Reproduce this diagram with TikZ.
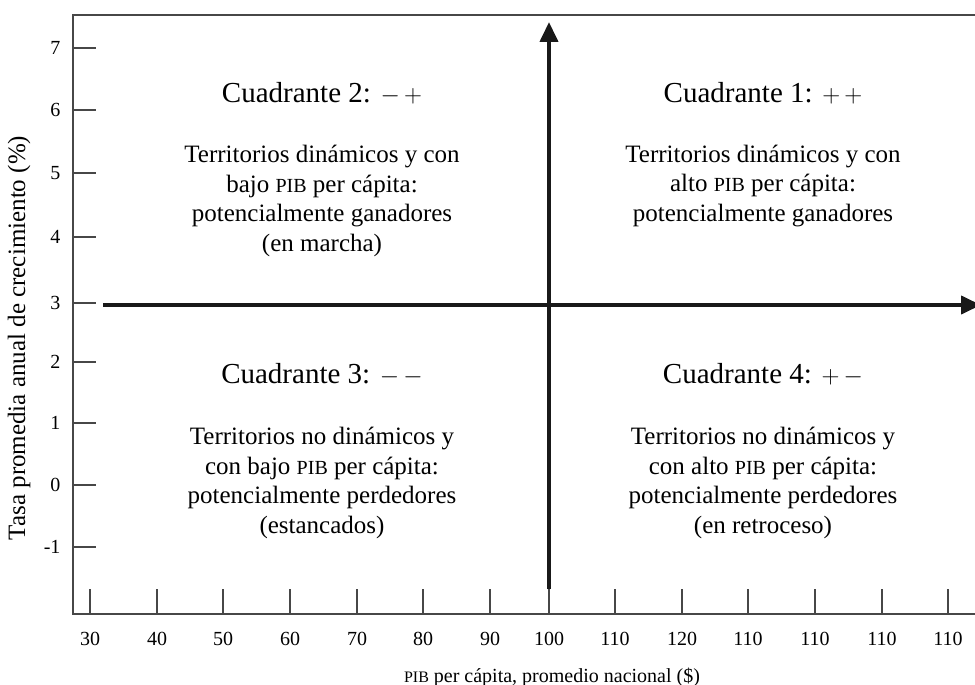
\documentclass[tikz,border=0pt]{standalone}
\usepackage{fontspec}
\setmainfont{Liberation Serif}
\usepackage{graphicx}
\usetikzlibrary{arrows.meta}
\newcommand{\pib}{\scalebox{0.8}{PIB}}

\begin{document}
\begin{tikzpicture}[x=1pt,y=-1pt,
        frameline/.style={draw=black!72,line width=1.5pt},
        bigarrow/.style={-{Triangle[length=20pt,width=18pt]},line width=4pt,draw=black!90},
        quadtitle/.style={font=\fontsize{29}{34}\selectfont},
        quadtext/.style={align=center,font=\fontsize{25}{29.5}\selectfont},
        ticklabel/.style={font=\fontsize{20}{24}\selectfont}]
        \useasboundingbox (0,0) rectangle (975,685);
        % frame
        \draw[frameline] (975,15) -- (73,15) -- (73,614) -- (975,614);
        % y ticks
        \foreach \v/\y in {7/48,6/110,5/173,4/237,3/303,2/362,1/423,0/485,-1/547}{
                \draw[frameline] (73,\y) -- (96,\y);
                \node [ticklabel,anchor=east] (ylab\v) at (64,\y) {\v};
        }
        % x ticks
        \foreach \v/\x [count=\i] in {30/90,40/157,50/223,60/290,70/357,80/423,90/490,100/549,110/615,120/682,110/748,110/815,110/882,110/948}{
                \draw[frameline] (\x,589) -- (\x,614);
                \node [ticklabel] (xlab\i) at (\x,639) {\v};
        }
        % axis titles
        \node [ticklabel] (xtitle) at (552,677) {\pib{} per cápita, promedio nacional (\$)};
        \node [font=\fontsize{25}{30}\selectfont,rotate=90] (ytitle) at (19,338) {Tasa promedia anual de crecimiento (\%)};
        % axes through (100,3)
        \coordinate (vbot) at (549,589);
        \coordinate (vtop) at (549,22);
        \coordinate (hleft) at (103,305);
        \coordinate (hright) at (981,305);
        \draw[bigarrow] (vbot) -- (vtop);
        \draw[bigarrow] (hleft) -- (hright);
        % quadrants
        \node [quadtitle] (q2title) at (322,93) {Cuadrante 2: $-\,+$};
        \node [quadtext] (q2text) at (322,201) {Territorios dinámicos y con\\bajo \pib{} per cápita:\\potencialmente ganadores\\(en marcha)};
        \node [quadtitle] (q1title) at (763,93) {Cuadrante 1: $+\,+$};
        \node [quadtext] (q1text) at (763,186) {Territorios dinámicos y con\\alto \pib{} per cápita:\\potencialmente ganadores};
        \node [quadtitle] (q3title) at (322,374) {Cuadrante 3: $-\,-$};
        \node [quadtext] (q3text) at (322,483) {Territorios no dinámicos y\\con bajo \pib{} per cápita:\\potencialmente perdedores\\(estancados)};
        \node [quadtitle] (q4title) at (763,374) {Cuadrante 4: $+\,-$};
        \node [quadtext] (q4text) at (763,483) {Territorios no dinámicos y\\con alto \pib{} per cápita:\\potencialmente perdedores\\(en retroceso)};
\end{tikzpicture}
\end{document}
